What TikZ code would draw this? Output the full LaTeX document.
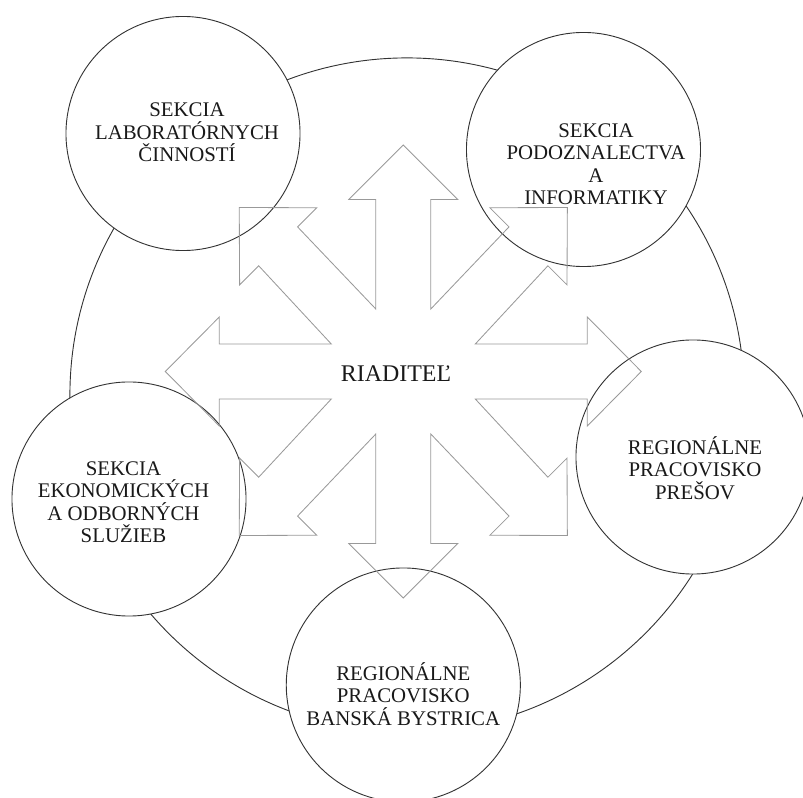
\documentclass[tikz,border=0pt]{standalone}
\usepackage{fontspec}
\setmainfont{Liberation Serif}
\usetikzlibrary{positioning}

\begin{document}
\begin{tikzpicture}[
    x=0.025cm, y=0.025cm,
    ring/.style={circle, draw=black!80, line width=0.65pt, minimum size=16.85cm, inner sep=0pt},
    unit/.style={circle, draw=black!80, fill=white, line width=0.65pt, minimum size=5.85cm, inner sep=0pt},
    unittext/.style={align=center, font=\fontsize{14.8}{16}\selectfont, text=black!90},
    head/.style={font=\fontsize{17}{20}\selectfont, text=black!90},
    star/.style={draw=black!40, line width=0.6pt, line join=miter}
    ]

    \useasboundingbox (0,0) rectangle (803,797);

    % Outer ring
    \node[ring] (ring) at (407,402) {};

    % Sections and regional offices
    \node[unit] (lab) at (183,663.5) {};
    \node[unit] (pod) at (583.5,647.5) {};
    \node[unit] (pre) at (693,340) {};
    \node[unit] (eko) at (129,298) {};
    \node[unit] (bb) at (403.3,112) {};

    % Arrow star around the director
    \coordinate (ctr) at (403.3,425.5);
    \begin{scope}[shift={(ctr)}]
        \draw[star] (72,-27.5)
            \foreach \a/\t/\b/\ix/\iy in {0/238/184/72/27.5, 45/232/177/27.5/62.5,
                90/226.5/172/-27.5/62.5, 135/232/177/-72/27.5, 180/238/184/-72/-27.5,
                225/232/177/-27.5/-62.5, 270/226.5/172/27.5/-62.5, 315/232/177/72/-27.5}
            { -- ([rotate=\a]\b,-27.5) -- ([rotate=\a]\b,-54.5) -- ([rotate=\a]\t,0)
              -- ([rotate=\a]\b,54.5) -- ([rotate=\a]\b,27.5) -- (\ix,\iy) } -- cycle;
    \end{scope}

    % Labels
    \node[head] (dir) at (396,423) {RIADITEĽ};
    \node[unittext] (labtxt) at ([shift={(4,1)}]lab) {SEKCIA\\LABORATÓRNYCH\\ČINNOSTÍ};
    \node[unittext] (podtxt) at ([shift={(12.5,-14.5)}]pod) {SEKCIA\\PODOZNALECTVA\\A\\INFORMATIKY};
    \node[unittext] (pretxt) at ([shift={(2,-11)}]pre) {REGIONÁLNE\\PRACOVISKO\\PREŠOV};
    \node[unittext] (ekotxt) at ([shift={(-5.5,-3)}]eko) {SEKCIA\\EKONOMICKÝCH\\A ODBORNÝCH\\SLUŽIEB};
    \node[unittext] (bbtxt) at ([shift={(0,-9)}]bb) {REGIONÁLNE\\PRACOVISKO\\BANSKÁ BYSTRICA};

\end{tikzpicture}
\end{document}
